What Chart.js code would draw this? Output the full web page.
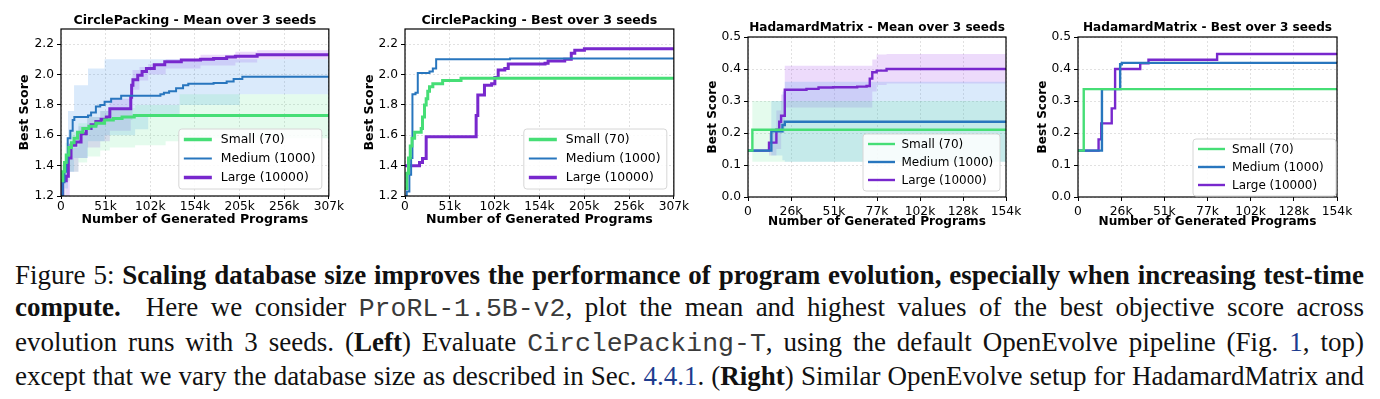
<!DOCTYPE html>
<html>
<head>
<meta charset="utf-8">
<script src="https://cdn.jsdelivr.net/npm/chart.js@4.4.1/dist/chart.umd.min.js"></script>
<style>
  body { margin: 0; background: #fff; width: 1380px; height: 399px; overflow: hidden; position: relative; }
  .panel { position: absolute; top: 0; width: 345px; height: 235px; }
  .caption { position: absolute; left: 15px; top: 259px; width: 1349px; font-family: "Liberation Serif", "Times New Roman", serif; font-size: 27px; line-height: 32.4px; color: #111; }
  .caption div { white-space: nowrap; text-align: justify; text-align-last: justify; }
  .mono { font-family: "Liberation Mono", monospace; color: #3a3a3a; font-size: 26.5px; }
  .ref { color: #1d3c8f; }
</style>
</head>
<body>
<div class="panel" style="left:0px"><canvas id="c1" width="345" height="235"></canvas></div>
<div class="panel" style="left:345px"><canvas id="c2" width="345" height="235"></canvas></div>
<div class="panel" style="left:690px"><canvas id="c3" width="345" height="235"></canvas></div>
<div class="panel" style="left:1035px"><canvas id="c4" width="345" height="235"></canvas></div>

<div class="caption">
  <div>Figure 5: <b>Scaling database size improves the performance of program evolution, especially when increasing test-time</b></div>
  <div><b>compute.</b>&nbsp; Here we consider <span class="mono">ProRL-1.5B-v2</span>, plot the mean and highest values of the best objective score across</div>
  <div>evolution runs with 3 seeds. (<b>Left</b>) Evaluate <span class="mono">CirclePacking-T</span>, using the default OpenEvolve pipeline (Fig. <span class="ref">1</span>, top)</div>
  <div>except that we vary the database size as described in Sec. <span class="ref">4.4.1</span>. (<b>Right</b>) Similar OpenEvolve setup for HadamardMatrix and</div>
</div>

<script>
// ---- data (x in thousands of generated programs) ----
const seriesNames = ['Small (70)', 'Medium (1000)', 'Large (10000)'];

const cpXTicks = [0, 51.2, 102.4, 153.6, 204.8, 256, 307.2];
const cpXLabels = ['0', '51k', '102k', '154k', '205k', '256k', '307k'];
const cpYTicks = [1.2, 1.4, 1.6, 1.8, 2.0, 2.2];
const cpYLabels = ['1.2', '1.4', '1.6', '1.8', '2.0', '2.2'];
const hmXTicks = [0, 25.6, 51.2, 76.8, 102.4, 128, 153.6];
const hmXLabels = ['0', '26k', '51k', '77k', '102k', '128k', '154k'];
const hmYTicks = [0, 0.1, 0.2, 0.3, 0.4, 0.5];
const hmYLabels = ['0.0', '0.1', '0.2', '0.3', '0.4', '0.5'];

// CirclePacking - mean over 3 seeds
const cpMeanSmallX = [0, 2, 4, 6, 9, 12, 15, 19, 25, 32, 40, 50, 60, 70, 84, 307.2];
const cpMeanSmallY = [1.30, 1.36, 1.42, 1.47, 1.52, 1.55, 1.58, 1.62, 1.645, 1.66, 1.68, 1.70, 1.71, 1.72, 1.73, 1.73];
const cpMeanMediumX = [0, 2, 4, 6, 7.7, 10.7, 13.4, 15.3, 31, 34.5, 40, 45, 50, 57.5, 69, 114, 118, 124, 132, 140, 146, 175, 190, 198, 208, 307.2];
const cpMeanMediumY = [1.2, 1.29, 1.36, 1.42, 1.58, 1.63, 1.70, 1.72, 1.73, 1.75, 1.79, 1.80, 1.82, 1.84, 1.86, 1.87, 1.88, 1.89, 1.91, 1.93, 1.94, 1.945, 1.955, 1.97, 1.985, 1.985];
const cpMeanLargeX = [0, 2, 6, 8.4, 11.5, 17, 23, 29, 34.5, 40, 46, 52, 56, 80, 81, 82.5, 88, 93, 98, 107, 119, 138, 160, 175, 190, 200, 225, 307.2];
const cpMeanLargeY = [1.2, 1.3, 1.33, 1.45, 1.535, 1.555, 1.61, 1.645, 1.67, 1.69, 1.705, 1.72, 1.775, 1.85, 1.93, 1.965, 1.995, 2.02, 2.04, 2.065, 2.085, 2.095, 2.10, 2.105, 2.115, 2.12, 2.13, 2.13];

const cpBandSmallX = [0, 5, 10, 20, 30, 45, 56, 85, 120, 136, 307.2];
const cpBandSmallLo = [1.2, 1.3, 1.36, 1.42, 1.46, 1.50, 1.52, 1.535, 1.56, 1.58, 1.58];
const cpBandSmallHi = [1.4, 1.55, 1.62, 1.68, 1.72, 1.76, 1.78, 1.80, 1.80, 1.87, 1.87];
const cpBandMediumX = [0, 4, 8, 15, 31, 50, 85, 100, 136, 205, 307.2];
const cpBandMediumLo = [1.2, 1.25, 1.36, 1.45, 1.56, 1.60, 1.64, 1.72, 1.80, 1.87, 1.87];
const cpBandMediumHi = [1.2, 1.4, 1.76, 1.93, 2.04, 2.10, 2.10, 2.10, 2.10, 2.10, 2.10];
const cpBandLargeX = [0, 5, 10, 20, 30, 45, 56, 80, 82, 90, 100, 120, 160, 200, 225, 307.2];
const cpBandLargeLo = [1.2, 1.2, 1.36, 1.45, 1.52, 1.56, 1.63, 1.70, 1.90, 1.96, 2.0, 2.04, 2.06, 2.08, 2.10, 2.10];
const cpBandLargeHi = [1.2, 1.40, 1.52, 1.66, 1.72, 1.76, 1.84, 1.86, 2.03, 2.05, 2.07, 2.10, 2.13, 2.15, 2.16, 2.16];

// CirclePacking - best over 3 seeds
const cpBestSmallX = [0, 2, 4, 6, 8, 11, 18.5, 20, 22.3, 24.2, 26, 28, 31.8, 43, 64, 307.2];
const cpBestSmallY = [1.25, 1.35, 1.45, 1.53, 1.58, 1.62, 1.645, 1.72, 1.80, 1.84, 1.89, 1.92, 1.94, 1.96, 1.975, 1.975];
const cpBestMediumX = [0, 2, 5, 7, 8.5, 12, 14.6, 28, 31.8, 35.6, 120, 307.2];
const cpBestMediumY = [1.2, 1.23, 1.34, 1.45, 1.87, 1.88, 2.01, 2.02, 2.04, 2.10, 2.105, 2.105];
const cpBestLargeX = [0, 16.6, 20, 24.2, 79.4, 81.3, 83.2, 90.8, 99, 102.7, 106.5, 114, 118, 160, 163.5, 182.5, 190, 194, 205, 307.2];
const cpBestLargeY = [1.40, 1.42, 1.447, 1.59, 1.59, 1.73, 1.865, 1.93, 1.94, 1.98, 2.03, 2.04, 2.07, 2.075, 2.09, 2.10, 2.14, 2.16, 2.17, 2.17];

// HadamardMatrix - mean over 3 seeds
const hmMeanSmallX = [0, 2.6, 153.6];
const hmMeanSmallY = [0.145, 0.21, 0.21];
const hmMeanMediumX = [0, 13.9, 20.5, 21.9, 153.6];
const hmMeanMediumY = [0.145, 0.205, 0.225, 0.235, 0.235];
const hmMeanLargeX = [0, 12.5, 16.9, 18.6, 19.7, 21.9, 30.8, 34.8, 42, 50.7, 65, 70.6, 72.5, 74, 76.6, 82.5, 153.6];
const hmMeanLargeY = [0.145, 0.17, 0.21, 0.235, 0.254, 0.335, 0.335, 0.338, 0.342, 0.343, 0.345, 0.347, 0.37, 0.39, 0.395, 0.40, 0.40];

const hmBandSmallX = [0, 2.6, 153.6];
const hmBandSmallLo = [0.145, 0.11, 0.11];
const hmBandSmallHi = [0.145, 0.30, 0.30];
const hmBandMediumX = [0, 13.9, 20.5, 21.9, 153.6];
const hmBandMediumLo = [0.145, 0.13, 0.115, 0.11, 0.11];
const hmBandMediumHi = [0.145, 0.30, 0.33, 0.36, 0.36];
const hmBandLargeX = [0, 12.5, 16.9, 19.7, 21.9, 70.6, 74, 76.6, 82.5, 153.6];
const hmBandLargeLo = [0.145, 0.13, 0.15, 0.20, 0.28, 0.28, 0.33, 0.35, 0.355, 0.355];
const hmBandLargeHi = [0.145, 0.20, 0.27, 0.32, 0.41, 0.41, 0.43, 0.445, 0.447, 0.447];

// HadamardMatrix - best over 3 seeds
const hmBestSmallX = [0, 3.4, 153.6];
const hmBestSmallY = [0.145, 0.337, 0.337];
const hmBestMediumX = [0, 14.2, 25, 26, 153.6];
const hmBestMediumY = [0.145, 0.337, 0.415, 0.419, 0.419];
const hmBestLargeX = [0, 12.2, 13.8, 20, 22, 36.9, 41.8, 82.5, 153.6];
const hmBestLargeY = [0.145, 0.18, 0.23, 0.277, 0.40, 0.418, 0.429, 0.447, 0.447];

// ---- styling ----
const lineColors = ['rgb(70, 222, 118)', 'rgb(40, 118, 190)', 'rgb(120, 40, 205)'];
const bandColors = ['rgba(90, 230, 140, 0.16)', 'rgba(70, 150, 235, 0.20)', 'rgba(175, 90, 235, 0.22)'];
const FONT = '"DejaVu Sans", sans-serif';

Chart.defaults.font.family = FONT;
Chart.defaults.color = '#000';

function pts(xs, ys) {
    return xs.map((x, i) => ({ x: x, y: ys[i] }));
}

// frame, title and an in-axes legend (matplotlib look)
const panelDecor = {
    id: 'panelDecor',
    afterDraw(chart, args, o) {
        const { ctx, chartArea: a } = chart;
        ctx.save();
        ctx.strokeStyle = '#000';
        ctx.lineWidth = 1.2;
        ctx.strokeRect(a.left, a.top, a.right - a.left, a.bottom - a.top);

        ctx.fillStyle = '#000';
        ctx.font = `bold ${o.titleSize}px ${FONT}`;
        ctx.textAlign = 'center';
        ctx.textBaseline = 'middle';
        ctx.fillText(o.title, (a.left + a.right) / 2, o.titleY);

        // legend box
        const lg = o.legend;
        const bx = a.right - lg.inset - lg.w;
        const by = a.bottom - lg.inset - lg.h;
        ctx.beginPath();
        ctx.roundRect(bx, by, lg.w, lg.h, 3);
        ctx.fillStyle = 'rgba(255,255,255,0.85)';
        ctx.fill();
        ctx.strokeStyle = '#d6d6d6';
        ctx.lineWidth = 1;
        ctx.stroke();
        ctx.font = `${lg.size}px ${FONT}`;
        ctx.textAlign = 'left';
        seriesNames.forEach((name, i) => {
            const cy = by + lg.firstRow + i * lg.rowGap;
            ctx.strokeStyle = lineColors[i];
            ctx.lineWidth = o.widths[i];
            ctx.beginPath();
            ctx.moveTo(bx + 5, cy);
            ctx.lineTo(bx + 5 + lg.lineLen, cy);
            ctx.stroke();
            ctx.fillStyle = '#000';
            ctx.fillText(name, bx + lg.textX, cy + 0.5);
        });
        ctx.restore();
    }
};

function makePanel(id, p) {
    const datasets = [];
    p.lines.forEach((s, i) => {
        datasets.push({
            data: pts(s[0], s[1]), borderColor: lineColors[i], borderWidth: p.widths[i],
            stepped: true, pointRadius: 0, fill: false
        });
    });
    (p.bands || []).forEach((b, i) => {
        datasets.push({
            data: pts(b[0], b[1]), borderColor: 'rgba(0,0,0,0)', borderWidth: 1,
            stepped: true, pointRadius: 0, fill: false
        });
        datasets.push({
            data: pts(b[0], b[2]), borderColor: 'rgba(0,0,0,0)', borderWidth: 1,
            stepped: true, pointRadius: 0, fill: '-1', backgroundColor: bandColors[i]
        });
    });

    const g = p.geom;
    const gridCfg = { color: 'rgba(170,170,170,0.45)', lineWidth: 0.8, tickColor: '#000', tickWidth: 1 };

    return new Chart(document.getElementById(id), {
        type: 'line',
        data: { datasets: datasets },
        plugins: [panelDecor],
        options: {
            responsive: false,
            animation: false,
            devicePixelRatio: 1,
            layout: { padding: { top: g.top, right: g.right, left: 0, bottom: 0 } },
            plugins: {
                legend: { display: false },
                tooltip: { enabled: false },
                filler: { drawTime: 'beforeDatasetsDraw' },
                panelDecor: { title: p.title, titleSize: p.titleSize, titleY: g.titleY, legend: p.legend, widths: p.legendWidths }
            },
            scales: {
                x: {
                    type: 'linear', min: 0, max: p.xTicks[p.xTicks.length - 1],
                    afterBuildTicks: s => { s.ticks = p.xTicks.map(v => ({ value: v })); },
                    afterFit: s => { s.height = 235 - g.bottom; },
                    ticks: { callback: (v, i) => p.xLabels[i], font: { size: p.tickSize }, padding: g.xTickPad, maxRotation: 0, autoSkip: false },
                    grid: Object.assign({ tickLength: g.xTickLen }, gridCfg),
                    border: { display: false, dash: [2, 2] },
                    title: { display: true, text: 'Number of Generated Programs', font: { size: p.titleSize, weight: 'bold' }, padding: { top: 0, bottom: g.xTitlePad } }
                },
                y: {
                    type: 'linear', min: p.yMin, max: p.yMax,
                    afterBuildTicks: s => { s.ticks = p.yTicks.map(v => ({ value: v })); },
                    afterFit: s => { s.width = g.left; },
                    ticks: { callback: (v, i) => p.yLabels[i], font: { size: p.tickSize }, padding: 3, autoSkip: false },
                    grid: Object.assign({ tickLength: 4 }, gridCfg),
                    border: { display: false, dash: [2, 2] },
                    title: { display: true, text: 'Best Score', font: { size: p.titleSize, weight: 'bold' }, padding: { top: g.yTitlePad, bottom: 0 } }
                }
            }
        }
    });
}

const cpLegend = { w: 143, h: 60, inset: 7, firstRow: 10.5, rowGap: 19, lineLen: 28, textX: 42, size: 12.4 };
const hmLegend = { w: 137, h: 57, inset: 6, firstRow: 10, rowGap: 18, lineLen: 27, textX: 38.5, size: 12 };

makePanel('c1', {
    title: 'CirclePacking - Mean over 3 seeds', titleSize: 12.6, tickSize: 12.2,
    xTicks: cpXTicks, xLabels: cpXLabels, yTicks: cpYTicks, yLabels: cpYLabels, yMin: 1.2, yMax: 2.3,
    lines: [[cpMeanSmallX, cpMeanSmallY], [cpMeanMediumX, cpMeanMediumY], [cpMeanLargeX, cpMeanLargeY]],
    bands: [[cpBandSmallX, cpBandSmallLo, cpBandSmallHi], [cpBandMediumX, cpBandMediumLo, cpBandMediumHi], [cpBandLargeX, cpBandLargeLo, cpBandLargeHi]],
    widths: [3, 2, 3], legendWidths: [3.5, 2, 3.5], legend: cpLegend,
    geom: { left: 61, right: 15, top: 29, bottom: 196, titleY: 20.5, xTickLen: 3, xTickPad: 1, xTitlePad: 7.4, yTitlePad: 17.4 }
});

makePanel('c2', {
    title: 'CirclePacking - Best over 3 seeds', titleSize: 12.6, tickSize: 12.2,
    xTicks: cpXTicks, xLabels: cpXLabels, yTicks: cpYTicks, yLabels: cpYLabels, yMin: 1.2, yMax: 2.3,
    lines: [[cpBestSmallX, cpBestSmallY], [cpBestMediumX, cpBestMediumY], [cpBestLargeX, cpBestLargeY]],
    widths: [3, 2, 3], legendWidths: [3.5, 2, 3.5], legend: cpLegend,
    geom: { left: 60, right: 16, top: 29, bottom: 196, titleY: 20.5, xTickLen: 3, xTickPad: 1, xTitlePad: 7.4, yTitlePad: 17.4 }
});

makePanel('c3', {
    title: 'HadamardMatrix - Mean over 3 seeds', titleSize: 12.1, tickSize: 12.3,
    xTicks: hmXTicks, xLabels: hmXLabels, yTicks: hmYTicks, yLabels: hmYLabels, yMin: 0, yMax: 0.5,
    lines: [[hmMeanSmallX, hmMeanSmallY], [hmMeanMediumX, hmMeanMediumY], [hmMeanLargeX, hmMeanLargeY]],
    bands: [[hmBandSmallX, hmBandSmallLo, hmBandSmallHi], [hmBandMediumX, hmBandMediumLo, hmBandMediumHi], [hmBandLargeX, hmBandLargeLo, hmBandLargeHi]],
    widths: [2.4, 2.4, 2.4], legendWidths: [2.4, 2.4, 2.4], legend: hmLegend,
    geom: { left: 58, right: 29, top: 37, bottom: 197, titleY: 28.3, xTickLen: 4, xTickPad: 3, xTitlePad: 6, yTitlePad: 15.7 }
});

makePanel('c4', {
    title: 'HadamardMatrix - Best over 3 seeds', titleSize: 12.1, tickSize: 12.3,
    xTicks: hmXTicks, xLabels: hmXLabels, yTicks: hmYTicks, yLabels: hmYLabels, yMin: 0, yMax: 0.5,
    lines: [[hmBestSmallX, hmBestSmallY], [hmBestMediumX, hmBestMediumY], [hmBestLargeX, hmBestLargeY]],
    widths: [2.4, 2.4, 2.4], legendWidths: [2.4, 2.4, 2.4], legend: { w: 143, h: 57, inset: 1, firstRow: 10, rowGap: 18, lineLen: 27, textX: 39, size: 12 },
    geom: { left: 43, right: 43, top: 37, bottom: 197, titleY: 28.3, xTickLen: 4, xTickPad: 3, xTitlePad: 6, yTitlePad: 1 }
});
</script>
</body>
</html>
